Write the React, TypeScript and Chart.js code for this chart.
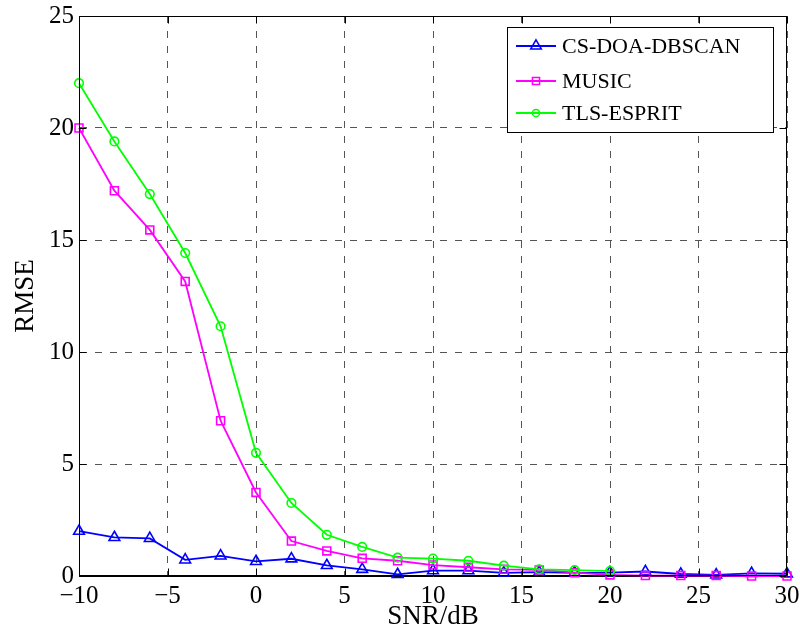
import React, { useEffect, useRef } from "react";
import { Chart, registerables } from "chart.js";

Chart.register(...registerables);

const snr = [-10, -8, -6, -4, -2, 0, 2, 4, 6, 8, 10, 12, 14, 16, 18, 20, 22, 24, 26, 28, 30];
const snrGreen = [-10, -8, -6, -4, -2, 0, 2, 4, 6, 8, 10, 12, 14, 16, 18, 20];

const csDoa = [2.0, 1.72, 1.68, 0.72, 0.9, 0.65, 0.77, 0.47, 0.3, 0.07, 0.24, 0.24, 0.14, 0.17, 0.14, 0.15, 0.2, 0.09, 0.05, 0.12, 0.1];
const music = [20.0, 17.2, 15.45, 13.15, 6.93, 3.73, 1.56, 1.12, 0.79, 0.68, 0.49, 0.39, 0.3, 0.27, 0.15, 0.05, 0.02, 0.02, 0.02, 0.0, 0.0];
const tlsEsprit = [22.0, 19.4, 17.05, 14.42, 11.15, 5.5, 3.26, 1.84, 1.3, 0.82, 0.78, 0.68, 0.46, 0.3, 0.26, 0.22];

const seriesNames = ["CS-DOA-DBSCAN", "MUSIC", "TLS-ESPRIT"];
const seriesColors = ["#0000ff", "#ff00ff", "#00ff00"];
const seriesMarkers = ["triangle", "rect", "circle"];
const seriesRadius = [6.2, 5.6, 4.3];

const xTicks = [-10, -5, 0, 5, 10, 15, 20, 25, 30];
const yTicks = [0, 5, 10, 15, 20, 25];

const tickFont = { family: "'Liberation Serif', 'Times New Roman', serif", size: 25 };
const titleFont = { family: "'Liberation Serif', 'Times New Roman', serif", size: 27 };

function drawMarker(ctx: CanvasRenderingContext2D, style: string, x: number, y: number, r: number) {
  ctx.beginPath();
  if (style === "circle") {
    ctx.arc(x, y, r, 0, Math.PI * 2);
  } else if (style === "rect") {
    const s = r * Math.SQRT1_2;
    ctx.rect(x - s, y - s, 2 * s, 2 * s);
  } else {
    const a1 = (2 * Math.PI) / 3;
    ctx.moveTo(x, y - r);
    ctx.lineTo(x + Math.sin(a1) * r, y - Math.cos(a1) * r);
    ctx.lineTo(x - Math.sin(a1) * r, y - Math.cos(a1) * r);
    ctx.closePath();
  }
  ctx.stroke();
}

const framePlugin = {
  id: "frame",
  afterDatasetsDraw(chart: any) {
    const { ctx, chartArea: a, scales } = chart;
    ctx.save();
    ctx.strokeStyle = "#000";
    ctx.lineWidth = 1;
    ctx.setLineDash([]);
    const l = Math.round(a.left) + 0.5;
    const r = Math.round(a.right) - 0.5;
    const t = Math.round(a.top) + 0.5;
    const b = Math.round(a.bottom) - 0.5;
    ctx.strokeRect(l, t, r - l, b - t);
    const tl = 7;
    ctx.beginPath();
    for (const v of xTicks) {
      const x = Math.round(scales.x.getPixelForValue(v)) + 0.5;
      ctx.moveTo(x, b);
      ctx.lineTo(x, b - tl);
      ctx.moveTo(x, t);
      ctx.lineTo(x, t + tl);
    }
    for (const v of yTicks) {
      const y = Math.round(scales.y.getPixelForValue(v)) + 0.5;
      ctx.moveTo(l, y);
      ctx.lineTo(l + tl, y);
      ctx.moveTo(r, y);
      ctx.lineTo(r - tl, y);
    }
    ctx.stroke();
    ctx.restore();
  },
  afterDraw(chart: any) {
    const { ctx, chartArea: a } = chart;
    const w = 266;
    const h = 105;
    const bx = Math.round(a.right - 14 - w);
    const by = Math.round(a.top + 11);
    ctx.save();
    ctx.fillStyle = "#fff";
    ctx.fillRect(bx, by, w, h);
    ctx.strokeStyle = "#000";
    ctx.lineWidth = 1;
    ctx.setLineDash([]);
    ctx.strokeRect(bx + 0.5, by + 0.5, w, h);
    ctx.font = "22px 'Liberation Serif', 'Times New Roman', serif";
    ctx.textBaseline = "middle";
    ctx.textAlign = "left";
    const rowY = [19, 54, 86];
    seriesNames.forEach((name, i) => {
      const cy = by + rowY[i];
      ctx.strokeStyle = seriesColors[i];
      ctx.lineWidth = 1.8;
      ctx.beginPath();
      ctx.moveTo(bx + 9, cy);
      ctx.lineTo(bx + 49, cy);
      ctx.stroke();
      ctx.lineWidth = 1.5;
      drawMarker(ctx, seriesMarkers[i], bx + 29, cy, i === 2 ? 3.6 : seriesRadius[i] * (i === 0 ? 1 : 0.9));
      ctx.fillStyle = "#000";
      ctx.fillText(name, bx + 55, cy + 1);
    });
    ctx.restore();
  },
};

export default function App() {
  const ref = useRef<HTMLCanvasElement | null>(null);
  useEffect(() => {
    if (!ref.current) return;
    const seriesData = [csDoa, music, tlsEsprit];
    const xs = [snr, snr, snrGreen];
    const chart = new Chart(ref.current, {
      type: "line",
      data: {
        datasets: seriesData.map((vals, i) => ({
          label: seriesNames[i],
          data: vals.map((v, j) => ({ x: xs[i][j], y: v })),
          borderColor: seriesColors[i],
          backgroundColor: "rgba(0,0,0,0)",
          borderWidth: 1.8,
          pointStyle: seriesMarkers[i] as any,
          pointRadius: seriesRadius[i],
          pointBorderWidth: 1.6,
          pointBorderColor: seriesColors[i],
          pointBackgroundColor: "rgba(0,0,0,0)",
          tension: 0,
          fill: false,
          order: 3 - i,
        })),
      },
      options: {
        responsive: false,
        animation: false,
        clip: false as any,
        layout: { padding: { left: 0, top: 16, right: 13, bottom: 0 } },
        plugins: { legend: { display: false }, tooltip: { enabled: false } },
        scales: {
          x: {
            type: "linear",
            min: -10,
            max: 30,
            afterFit: (s: any) => {
              s.height = 57;
              s.paddingLeft = 0;
              s.paddingRight = 0;
            },
            afterBuildTicks: (s: any) => {
              s.ticks = xTicks.map((v) => ({ value: v }));
            },
            ticks: {
              color: "#000",
              font: tickFont,
              padding: 5,
              maxRotation: 0,
              callback: (v: any) => (Number(v) < 0 ? "\u2212" + Math.abs(Number(v)) : String(v)),
            },
            grid: { color: "#555", lineWidth: 1, drawTicks: false },
            border: { display: true, color: "#000", dash: [7, 8] },
            title: { display: true, text: "SNR/dB", color: "#000", font: titleFont, padding: { top: 0, bottom: 0 } },
          },
          y: {
            type: "linear",
            min: 0,
            max: 25,
            afterFit: (s: any) => {
              s.width = 79;
              s.paddingTop = 0;
              s.paddingBottom = 0;
            },
            afterBuildTicks: (s: any) => {
              s.ticks = yTicks.map((v) => ({ value: v }));
            },
            ticks: { color: "#000", font: tickFont, padding: 5 },
            grid: { color: "#555", lineWidth: 1, drawTicks: false },
            border: { display: true, color: "#000", dash: [7, 8] },
            title: { display: true, text: "RMSE", color: "#000", font: titleFont, padding: { top: 10, bottom: 0 } },
          },
        },
      },
      plugins: [framePlugin],
    });
    return () => chart.destroy();
  }, []);
  return (
    <div style={{ position: "absolute", left: 0, top: 0, width: 800, height: 633, background: "#fff" }}>
      <canvas ref={ref} width={800} height={633} style={{ width: 800, height: 633 }} />
    </div>
  );
}
